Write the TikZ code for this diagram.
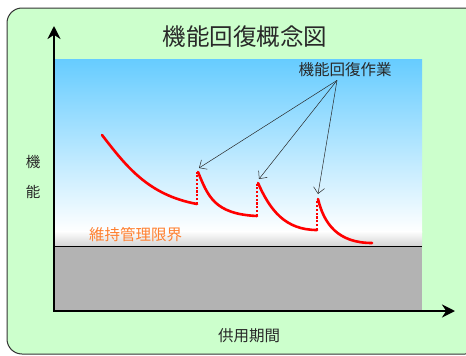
\documentclass[tikz,border=0pt]{standalone}
\usepackage{fontspec}
\setmainfont{Noto Sans CJK JP}
\usetikzlibrary{arrows.meta}
\definecolor{mint}{RGB}{204, 255, 204}
\definecolor{skyblue}{RGB}{102, 204, 255}
\definecolor{ground}{RGB}{179, 179, 179}
\definecolor{limitorange}{RGB}{255, 128, 48}
\definecolor{inkgray}{RGB}{40, 40, 40}

\begin{document}
\begin{tikzpicture}[x=1pt, y=-1pt,
        axis/.style     = {line width=2.5pt, -{Stealth[length=13pt,width=13pt]}},
        pointer/.style  = {inkgray, line width=0.5pt, -{Straight Barb[length=6pt,width=11pt]}},
        wear/.style     = {red, line width=2.6pt, line cap=round},
        repair/.style   = {red, line width=2.6pt, dash pattern=on 2.2pt off 1.6pt},
        label/.style    = {inkgray, font=\fontsize{15.5pt}{17pt}\selectfont, inner sep=0pt}]
            \useasboundingbox (0,0) rectangle (466,356);
            % background panel
            \filldraw[fill=mint, draw=black!80, line width=1pt, rounded corners=15pt] (7,8) rectangle (480,354);
            % sky and ground
            \shade[top color=skyblue, bottom color=white] (55,59) rectangle (422,232);
            \shade[top color=white, bottom color=black!18] (55,231) rectangle (422,247);
            \fill[ground] (55,247) rectangle (422,310);
            \draw[line width=1.8pt] (54,246.5) -- (422,246.5);
            % axes
            \draw[axis] (54,311) -- (54,26);
            \draw[axis] (53,311) -- (455,311);
            % texts
            \node[label, font=\fontsize{23.5pt}{26pt}\selectfont] (title) at (245,37) {機能回復概念図};
            \node[label] (work)  at (345,70)  {機能回復作業};
            \node[label, font=\fontsize{14.5pt}{16pt}\selectfont] (yki) at (33,162) {機};
            \node[label, font=\fontsize{14.5pt}{16pt}\selectfont] (yno) at (33,192) {能};
            \node[label] (xlab)  at (249,336) {供用期間};
            \node[label, text=limitorange, anchor=west] (limit) at (89,235) {維持管理限界};
            % wear curves
            \draw[wear] (102,135) .. controls (126,166) and (148,195) .. (197,204);
            \draw[repair] (197,204) -- (197,172);
            \draw[wear] (198,172) .. controls (208,196) and (214,214) .. (257,216);
            \draw[repair] (257,216) -- (257,184);
            \draw[wear] (258,183) .. controls (270,210) and (285,230) .. (317,230);
            \draw[repair] (317,230) -- (317,200);
            \draw[wear] (318,199) .. controls (324,224) and (338,243) .. (372,243);
            % pointers
            \coordinate (p1) at (199,168);
            \coordinate (p2) at (259,179);
            \coordinate (p3) at (318,194);
            \foreach \p in {p1,p2,p3}
                \draw[pointer] ([xshift=-8pt,yshift=-3pt]work.south) -- (\p);
        \end{tikzpicture}
\end{document}
